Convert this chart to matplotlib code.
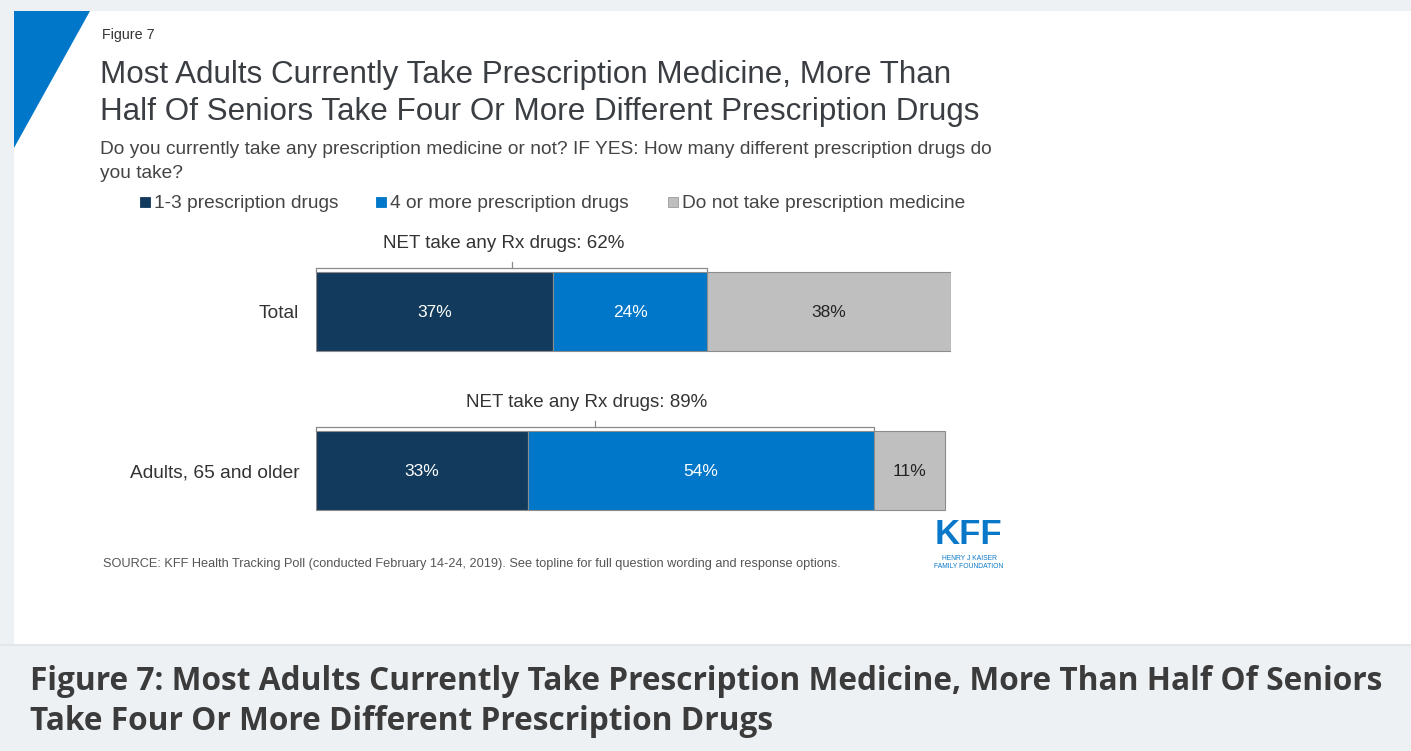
import matplotlib
matplotlib.use("Agg")
import matplotlib.pyplot as plt
from matplotlib.patches import Rectangle, Polygon

# ---- data ----
categories = ["Total", "Adults, 65 and older"]
series_names = ["1-3 prescription drugs", "4 or more prescription drugs",
                "Do not take prescription medicine"]
one_to_three = [37, 33]
four_or_more = [24, 54]
no_rx = [38, 11]
net_any_rx = [62, 89]

colors = ["#123a5c", "#0077c8", "#bfbfbf"]
label_colors = ["white", "white", "#222222"]

W, H = 1411, 751
fig = plt.figure(figsize=(W / 100, H / 100), dpi=100)
fig.patch.set_facecolor("#edf1f4")

FONT = ["Liberation Sans", "DejaVu Sans"]

# full-figure canvas in pixel coordinates for the card and text
bg = fig.add_axes([0, 0, 1, 1])
bg.set_xlim(0, W)
bg.set_ylim(H, 0)
bg.axis("off")
bg.add_patch(Rectangle((14, 11), W - 14, 634, facecolor="white", edgecolor="none"))
bg.add_patch(Polygon([(14, 11), (90, 11), (14, 148)], closed=True,
                     facecolor="#0077c8", edgecolor="none"))

bg.text(102, 35, "Figure 7", fontsize=10.3, color="#333333", va="center", family=FONT)
bg.text(100, 75, "Most Adults Currently Take Prescription Medicine, More Than",
        fontsize=22.6, color="#3a3d42", va="center", family=FONT)
bg.text(100, 112, "Half Of Seniors Take Four Or More Different Prescription Drugs",
        fontsize=22.6, color="#3a3d42", va="center", family=FONT)
bg.text(100, 150, "Do you currently take any prescription medicine or not? IF YES: "
        "How many different prescription drugs do",
        fontsize=13.8, color="#444444", va="center", family=FONT)
bg.text(100, 173, "you take?", fontsize=13.8, color="#444444", va="center", family=FONT)

# legend
legend_x = [140, 376, 668]
for x, name, c in zip(legend_x, series_names, colors):
    bg.add_patch(Rectangle((x, 197), 10, 10, facecolor=c,
                           edgecolor="#9a9a9a" if c == "#bfbfbf" else c, lw=0.6))
    bg.text(x + 14, 203.5, name, fontsize=13.8, color="#444444", va="center", family=FONT)

bg.text(103, 564, "SOURCE: KFF Health Tracking Poll (conducted February 14-24, 2019). "
        "See topline for full question wording and response options.",
        fontsize=9.2, color="#555555", va="center", family=FONT)

# logo
bg.text(968, 535, "KFF", fontsize=25, fontweight="heavy", color="#0a78c8",
        ha="center", va="center", family=FONT)
bg.text(969, 558, "HENRY J KAISER", fontsize=4.9, color="#0a78c8",
        ha="center", va="center", family=FONT)
bg.text(969, 566, "FAMILY FOUNDATION", fontsize=4.9, color="#0a78c8",
        ha="center", va="center", family=FONT)

# caption strip
bg.add_patch(Rectangle((14, 645), W - 14, H - 645, facecolor="#edf1f4", edgecolor="none"))
bg.add_patch(Rectangle((0, 644), W, 1.5, facecolor="#e2e7ea", edgecolor="none"))
cap_font = ["Open Sans", "DejaVu Sans"]
bg.text(30, 682, "Figure 7: Most Adults Currently Take Prescription Medicine, "
        "More Than Half Of Seniors", fontsize=22.8, fontweight="bold",
        color="#3b3b3b", va="center", family=cap_font)
bg.text(30, 721, "Take Four Or More Different Prescription Drugs", fontsize=22.8,
        fontweight="bold", color="#3b3b3b", va="center", family=cap_font)

# ---- bar chart ----
x0, x1 = 316, 951
px_per_unit = 159.0
row0 = 311.5
ymin, ymax = -0.62, 1.5
top_px = row0 + ymin * px_per_unit
bot_px = row0 + ymax * px_per_unit
ax = fig.add_axes([x0 / W, 1 - bot_px / H, (x1 - x0) / W, (bot_px - top_px) / H])
ax.set_xlim(0, sum([one_to_three[0], four_or_more[0], no_rx[0]]))
ax.set_ylim(ymax, ymin)
ax.patch.set_alpha(0)
for s in ax.spines.values():
    s.set_visible(False)
ax.set_xticks([])
ax.set_yticks(range(len(categories)))
ax.set_yticklabels(categories, fontsize=13.8, color="#333333", family=FONT)
ax.tick_params(axis="y", length=0, pad=12)

bar_h = 79 / px_per_unit
ypos = list(range(len(categories)))
left = [0] * len(categories)
for vals, c, lc in zip([one_to_three, four_or_more, no_rx], colors, label_colors):
    ax.barh(ypos, vals, left=left, height=bar_h, color=c,
            edgecolor="#8c8c8c", linewidth=0.8)
    for y, v, l in zip(ypos, vals, left):
        ax.text(l + v / 2, y + 1 / px_per_unit, f"{v}%", ha="center", va="center",
                fontsize=12.5, color=lc, family=FONT)
    left = [l + v for l, v in zip(left, vals)]

# brackets showing the net share taking any prescription drug
for y, a, b, net in zip(ypos, one_to_three, four_or_more, net_any_rx):
    end = a + b
    bar_top = y - bar_h / 2
    yb = bar_top - 4 / px_per_unit
    ax.plot([0, 0, end, end], [bar_top - 0.5 / px_per_unit, yb, yb, bar_top - 0.5 / px_per_unit],
            color="#8a8a8a", lw=0.9, clip_on=False)
    ax.plot([end / 2, end / 2], [yb, yb - 6 / px_per_unit], color="#8a8a8a",
            lw=0.9, clip_on=False)
    ax.text(end / 2 - 1.3, bar_top - 28.5 / px_per_unit, f"NET take any Rx drugs: {net}%",
            ha="center", va="center", fontsize=13.5, color="#333333", family=FONT)

fig.savefig("out.png", dpi=100, facecolor=fig.get_facecolor())
